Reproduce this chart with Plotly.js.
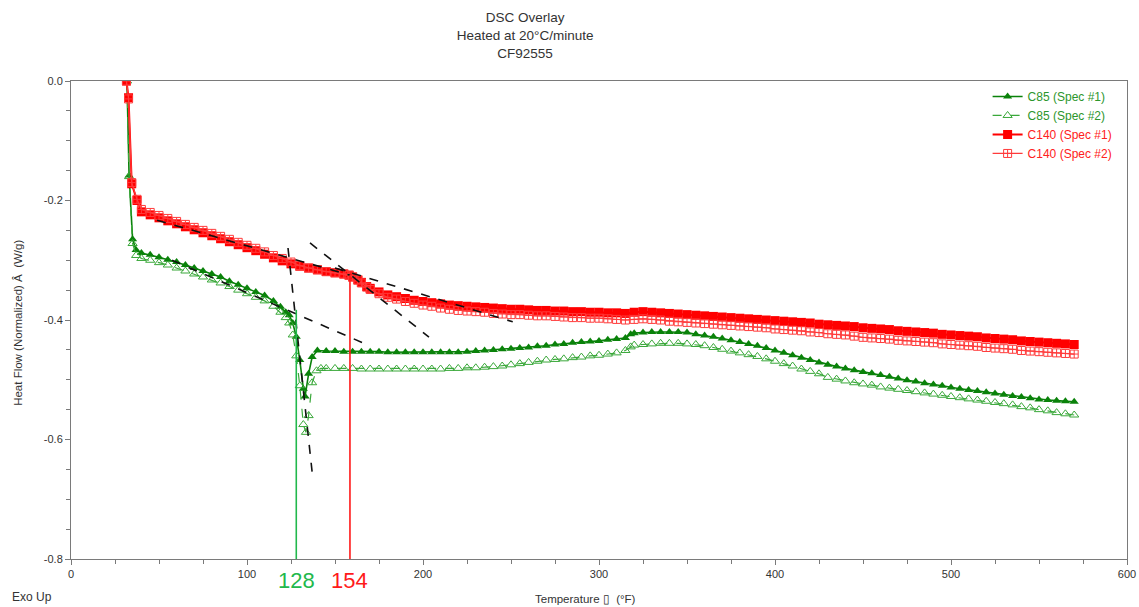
<!DOCTYPE html>
<html>
<head>
<meta charset="utf-8">
<script src="https://cdn.plot.ly/plotly-3.0.1.min.js"></script>
<style>html,body{margin:0;padding:0;background:#fff;}#chart{width:1139px;height:607px;}</style>
</head>
<body>
<div id="chart"></div>
<script>
// ---- Data (Temperature °F, Heat Flow W/g) ----
const c85s1Temp = [31.8,33,35,37,40,45,50,55,60,65,70,75,80,85,90,95,100,105,110,115,119,122,124,126,128,130,132,133,135,137,140,
  145,150,155,160,165,170,175,180,185,190,195,200,205,210,215,220,225,230,235,240,245,250,255,260,265,270,275,280,285,290,295,300,305,310,315,318,
  320,325,330,335,340,345,350,355,360,365,370,375,380,385,390,395,400,405,410,415,420,425,430,435,440,445,450,455,460,465,470,475,480,485,490,495,500,505,510,515,520,525,530,535,540,545,550,555,560,565,570];
const c85s1Flow = [0,-0.158,-0.265,-0.283,-0.288,-0.291,-0.295,-0.299,-0.303,-0.308,-0.313,-0.318,-0.323,-0.328,-0.335,-0.341,-0.347,-0.353,-0.359,-0.368,-0.378,-0.387,-0.392,-0.405,-0.428,-0.467,-0.515,-0.528,-0.49,-0.462,-0.451,
  -0.452,-0.452,-0.453,-0.453,-0.453,-0.453,-0.453,-0.454,-0.454,-0.454,-0.454,-0.454,-0.454,-0.454,-0.454,-0.454,-0.453,-0.452,-0.451,-0.450,-0.449,-0.448,-0.447,-0.446,-0.444,-0.443,-0.441,-0.440,-0.438,-0.437,-0.436,-0.435,-0.433,-0.432,-0.430,-0.424,
  -0.422,-0.421,-0.420,-0.420,-0.420,-0.420,-0.421,-0.424,-0.426,-0.428,-0.431,-0.434,-0.437,-0.440,-0.443,-0.447,-0.451,-0.455,-0.459,-0.463,-0.467,-0.471,-0.475,-0.478,-0.481,-0.484,-0.487,-0.489,-0.492,-0.495,-0.498,-0.501,-0.503,-0.506,-0.508,-0.510,-0.513,-0.515,-0.517,-0.519,-0.521,-0.523,-0.525,-0.527,-0.529,-0.531,-0.533,-0.534,-0.535,-0.536,-0.537];

const c85s2Temp = [31.8,33,35,37,40,45,50,55,60,65,70,75,80,85,90,95,100,105,110,115,119,122,124,126,128,130,132,133.5,135,137,139.5,142,
  145,150,155,160,165,170,175,180,185,190,195,200,205,210,215,220,225,230,235,240,245,250,255,260,265,270,275,280,285,290,295,300,305,310,315,318,
  320,325,330,335,340,345,350,355,360,365,370,375,380,385,390,395,400,405,410,415,420,425,430,435,440,445,450,455,460,465,470,475,480,485,490,495,500,505,510,515,520,525,530,535,540,545,550,555,560,565,570];
const c85s2Flow = [0,-0.16,-0.272,-0.292,-0.297,-0.300,-0.304,-0.308,-0.313,-0.318,-0.323,-0.328,-0.333,-0.338,-0.344,-0.350,-0.356,-0.362,-0.368,-0.377,-0.387,-0.396,-0.405,-0.425,-0.46,-0.51,-0.575,-0.588,-0.56,-0.505,-0.485,-0.481,
  -0.481,-0.481,-0.481,-0.481,-0.482,-0.482,-0.482,-0.482,-0.482,-0.482,-0.482,-0.482,-0.482,-0.482,-0.481,-0.481,-0.480,-0.480,-0.479,-0.478,-0.477,-0.475,-0.473,-0.471,-0.469,-0.467,-0.466,-0.465,-0.463,-0.462,-0.460,-0.459,-0.457,-0.455,-0.451,-0.445,
  -0.442,-0.441,-0.440,-0.439,-0.439,-0.439,-0.440,-0.441,-0.443,-0.446,-0.449,-0.452,-0.455,-0.458,-0.461,-0.465,-0.469,-0.473,-0.477,-0.482,-0.486,-0.490,-0.496,-0.499,-0.502,-0.505,-0.507,-0.509,-0.512,-0.514,-0.516,-0.518,-0.520,-0.522,-0.524,-0.526,-0.528,-0.530,-0.532,-0.534,-0.536,-0.538,-0.540,-0.542,-0.545,-0.547,-0.550,-0.552,-0.555,-0.557,-0.559];

const c140s1Temp = [31.5,32.7,34.5,37.5,40,45,50,55,60,65,70,75,80,85,90,95,100,105,110,115,120,125,130,135,140,145,150,155,158,160,163,165,168,170,175,180,185,190,195,200,
  205,210,215,220,225,230,235,240,245,250,255,260,265,270,275,280,285,290,295,300,305,310,315,320,325,330,335,340,345,350,355,360,365,370,375,380,385,390,395,400,
  405,410,415,420,425,430,435,440,445,450,455,460,465,470,475,480,485,490,495,500,505,510,515,520,525,530,535,540,545,550,555,560,565,570];
const c140s1Flow = [0,-0.028,-0.172,-0.2,-0.219,-0.224,-0.229,-0.234,-0.239,-0.244,-0.249,-0.254,-0.259,-0.264,-0.269,-0.274,-0.279,-0.284,-0.290,-0.296,-0.301,-0.306,-0.310,-0.313,-0.316,-0.319,-0.321,-0.323,-0.325,-0.328,-0.333,-0.337,-0.344,-0.347,-0.353,-0.358,-0.361,-0.364,-0.367,-0.369,
  -0.371,-0.373,-0.375,-0.376,-0.377,-0.378,-0.379,-0.380,-0.381,-0.382,-0.382,-0.383,-0.384,-0.384,-0.385,-0.385,-0.386,-0.386,-0.387,-0.387,-0.388,-0.388,-0.389,-0.387,-0.386,-0.387,-0.388,-0.389,-0.390,-0.391,-0.392,-0.393,-0.394,-0.395,-0.396,-0.397,-0.398,-0.399,-0.400,-0.401,
  -0.402,-0.403,-0.404,-0.405,-0.407,-0.408,-0.409,-0.410,-0.411,-0.413,-0.414,-0.415,-0.416,-0.418,-0.419,-0.420,-0.421,-0.422,-0.424,-0.425,-0.426,-0.427,-0.428,-0.430,-0.431,-0.432,-0.433,-0.435,-0.436,-0.437,-0.438,-0.439,-0.440,-0.441];

const c140s2Temp = c140s1Temp;
const c140s2Flow = [0,-0.03,-0.17,-0.198,-0.215,-0.220,-0.225,-0.230,-0.235,-0.240,-0.245,-0.250,-0.255,-0.260,-0.265,-0.270,-0.275,-0.280,-0.286,-0.292,-0.297,-0.303,-0.309,-0.313,-0.316,-0.319,-0.321,-0.323,-0.325,-0.328,-0.333,-0.338,-0.345,-0.349,-0.356,-0.362,-0.365,-0.369,-0.372,-0.375,
  -0.377,-0.380,-0.382,-0.384,-0.385,-0.386,-0.387,-0.389,-0.390,-0.391,-0.391,-0.392,-0.393,-0.393,-0.394,-0.395,-0.396,-0.396,-0.397,-0.397,-0.398,-0.399,-0.400,-0.399,-0.398,-0.399,-0.400,-0.402,-0.403,-0.404,-0.405,-0.406,-0.407,-0.408,-0.409,-0.410,-0.411,-0.412,-0.413,-0.415,
  -0.416,-0.417,-0.418,-0.420,-0.421,-0.423,-0.424,-0.425,-0.427,-0.429,-0.430,-0.431,-0.432,-0.434,-0.435,-0.436,-0.437,-0.438,-0.440,-0.441,-0.442,-0.443,-0.444,-0.446,-0.447,-0.448,-0.449,-0.451,-0.452,-0.453,-0.454,-0.455,-0.456,-0.457];

// Tangent (onset construction) dashed lines
const tangentStartTemp = [48.9, 135.8, 150, 57.4, 123.3];
const tangentStartFlow = [-0.233, -0.271, -0.313, -0.300, -0.2795];
const tangentEndTemp   = [158.5, 203.4, 251, 170, 137.5];
const tangentEndFlow   = [-0.325, -0.4285, -0.403, -0.4435, -0.668];

// Onset marker lines and labels
const onsetLineTemp  = [128, 158.5];
const onsetLineTop   = [-0.383, -0.325];
const onsetLabels    = ['128', '154'];
const onsetColors    = ['#22b84c', '#ff1a1a'];

// Axis ticks
const xTickVals = [0,100,200,300,400,500,600];
const xTickText = ['0','100','200','300','400','500','600'];
const yTickVals = [0,-0.2,-0.4,-0.6,-0.8];
const yTickText = ['0.0','-0.2','-0.4','-0.6','-0.8'];

const seriesNames = ['C85 (Spec #1)','C85 (Spec #2)','C140 (Spec #1)','C140 (Spec #2)'];

// ---- Build traces ----
const green1 = '#0a820a', green2 = '#3aa83a', red1 = '#ff0000', red2 = '#ff3b3b';
const traces = [];
traces.push({x:c85s1Temp, y:c85s1Flow, mode:'lines+markers', name:'<span style="color:#2c962c">'+seriesNames[0]+'</span>',
  line:{color:green1,width:1.6}, marker:{symbol:'triangle-up',size:8,color:green1}});
traces.push({x:c85s2Temp, y:c85s2Flow, mode:'lines+markers', name:'<span style="color:#2c962c">'+seriesNames[1]+'</span>',
  line:{color:green2,width:1.2,dash:'dash'}, marker:{symbol:'triangle-up-open',size:8,color:green2,line:{width:1}}});
traces.push({x:c140s1Temp, y:c140s1Flow, mode:'lines+markers', name:'<span style="color:#ff2020">'+seriesNames[2]+'</span>',
  line:{color:red1,width:2}, marker:{symbol:'square',size:9,color:red1}});
traces.push({x:c140s2Temp, y:c140s2Flow, mode:'lines+markers', name:'<span style="color:#ff2020">'+seriesNames[3]+'</span>',
  line:{color:red2,width:1.2}, marker:{symbol:'square-cross-open',size:8,color:red2,line:{width:1}}});

const tx = [], ty = [];
for (let i = 0; i < tangentStartTemp.length; i++) {
  tx.push(tangentStartTemp[i], tangentEndTemp[i], null);
  ty.push(tangentStartFlow[i], tangentEndFlow[i], null);
}
traces.push({x:tx, y:ty, mode:'lines', showlegend:false, hoverinfo:'skip',
  line:{color:'#111',width:1.6,dash:'dash'}});

for (let i = 0; i < onsetLineTemp.length; i++) {
  traces.push({x:[onsetLineTemp[i], onsetLineTemp[i]], y:[onsetLineTop[i], -0.8], mode:'lines', showlegend:false,
    hoverinfo:'skip', line:{color:onsetColors[i], width:1.6}});
}

const annotations = [];
for (let i = 0; i < onsetLabels.length; i++) {
  annotations.push({xref:'x', yref:'paper', x:onsetLineTemp[i], y:-0.046, text:onsetLabels[i], showarrow:false,
    xanchor:'center', yanchor:'middle', font:{size:22, color:onsetColors[i], family:'Liberation Sans, Arial, sans-serif'}});
}
annotations.push({xref:'paper', yref:'paper', x:-0.058, y:-0.08, xanchor:'left', yanchor:'middle', text:'Exo Up',
  showarrow:false, font:{size:12, color:'#333'}});
annotations.push({xref:'paper', yref:'paper', x:-0.0502, y:0.494, xanchor:'center', yanchor:'middle', textangle:-90,
  text:'Heat Flow (Normalized) Â  (W/g)', showarrow:false, font:{size:11.5, color:'#333'}});
annotations.push({xref:'paper', yref:'paper', x:0.487, y:-0.084, xanchor:'center', yanchor:'middle',
  text:'Temperature \u25AF  (°F)', showarrow:false, font:{size:11.5, color:'#333'}});

const axisColor = '#7a7a7a';
const layout = {
  width:1139, height:607,
  margin:{l:71, r:12, t:81, b:48, pad:0},
  paper_bgcolor:'#fff', plot_bgcolor:'#fff',
  font:{family:'Liberation Sans, Arial, sans-serif', color:'#333', size:11},
  title:{text:'DSC Overlay<br>Heated at 20°C/minute<br>CF92555', x:0.461, xref:'container', xanchor:'center',
    y:0.963, yref:'container', yanchor:'top', font:{size:13.5, color:'#333'}},
  showlegend:true,
  legend:{x:0.868, xanchor:'left', y:0.998, yanchor:'top', bgcolor:'rgba(0,0,0,0)', font:{size:12}, traceorder:'normal'},
  xaxis:{range:[0,600], showgrid:false, zeroline:false, showline:true, linecolor:axisColor, linewidth:1, mirror:true,
    ticks:'outside', ticklen:5, tickcolor:axisColor, tickmode:'array', tickvals:xTickVals, ticktext:xTickText,
    tickfont:{size:11, color:'#333'},
    minor:{tickmode:'linear', tick0:0, dtick:25, ticks:'outside', ticklen:4, tickcolor:axisColor, showgrid:false}},
  yaxis:{range:[-0.8,0], showgrid:false, zeroline:false, showline:true, linecolor:axisColor, linewidth:1, mirror:true,
    ticks:'outside', ticklen:5, tickcolor:axisColor, tickmode:'array', tickvals:yTickVals, ticktext:yTickText,
    tickfont:{size:11, color:'#333'},
    minor:{tickmode:'linear', tick0:0, dtick:0.05, ticks:'outside', ticklen:4, tickcolor:axisColor, showgrid:false}},
  annotations:annotations
};

Plotly.newPlot('chart', traces, layout, {staticPlot:true, displayModeBar:false});
</script>
</body>
</html>
